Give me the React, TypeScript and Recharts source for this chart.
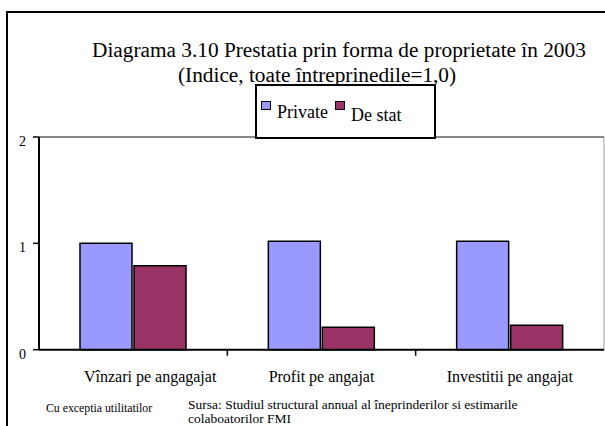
import { BarChart, Bar, XAxis, YAxis, ReferenceArea, ReferenceLine, Legend } from 'recharts'

const FONT = "'Liberation Serif', 'Times New Roman', serif"

const categories = ['Vînzari pe angagajat', 'Profit pe angajat', 'Investitii pe angajat']
const privateValues = [1.0, 1.02, 1.02]
const stateValues = [0.79, 0.21, 0.23]
const yTicks = [0, 1, 2]
const seriesNames = ['Private', 'De stat']
const seriesColors = ['#9999FF', '#993366']

const data = categories.map((name, i) => ({
  name,
  priv: privateValues[i],
  stat: stateValues[i],
}))

// category label + tick mark between categories (Excel style)
function CatTick(props: any) {
  const { x, y, payload, index } = props
  const half = payload.offset ?? 0
  // the first label sits a bit right of its group in the original
  const dx = index === 0 ? 17 : 0
  return (
    <g>
      <text x={x + dx} y={y + 32} textAnchor="middle" fontSize={16} fontFamily={FONT} fill="#000">
        {payload.value}
      </text>
      {index < categories.length - 1 && (
        <line x1={x + half} x2={x + half} y1={y} y2={y + 6} stroke="#000" strokeWidth={1.5} />
      )}
    </g>
  )
}

function ValTick(props: any) {
  const { x, y, payload } = props
  return (
    <text x={x} y={y + 9} textAnchor="end" fontSize={14} fontFamily={FONT} fill="#000">
      {payload.value}
    </text>
  )
}

function LegendBox() {
  return (
    <div
      style={{
        boxSizing: 'border-box',
        width: '100%',
        height: '100%',
        border: '2px solid #000',
        background: '#fff',
        display: 'flex',
        paddingLeft: 4,
        fontFamily: FONT,
        fontSize: 18,
        lineHeight: '18px',
        color: '#000',
      }}
    >
      {seriesNames.map((n, i) => (
        <div key={n} style={{ display: 'flex', alignItems: 'flex-start', marginRight: 7 }}>
          <span
            style={{
              boxSizing: 'border-box',
              width: 10,
              height: 9,
              marginTop: 15,
              marginRight: 6,
              border: '1.5px solid #000',
              background: seriesColors[i],
            }}
          />
          <span style={{ marginTop: i === 0 ? 17 : 20 }}>{n}</span>
        </div>
      ))}
    </div>
  )
}

export default function App() {
  return (
    <div
      style={{
        position: 'fixed',
        left: 0,
        top: 0,
        width: 605,
        height: 426,
        overflow: 'hidden',
        background: '#fff',
      }}
    >
      <div
        style={{
          position: 'absolute',
          left: 6,
          top: 11,
          width: 700,
          height: 500,
          border: '2px solid #000',
        }}
      />
      <svg width={605} height={426} style={{ position: 'absolute', left: 0, top: 0 }}>
        <g fontFamily={FONT} fill="#000">
          <text x={92} y={57} fontSize={21.3}>
            Diagrama 3.10 Prestatia prin forma de proprietate în 2003
          </text>
          <text x={178} y={82} fontSize={21.3}>
            (Indice, toate întreprinedile=1,0)
          </text>
          <text x={46} y={412} fontSize={11.8}>
            Cu exceptia utilitatilor
          </text>
          <text x={188} y={409} fontSize={13.5}>
            Sursa: Studiul structural annual al îneprinderilor si estimarile
          </text>
          <text x={188} y={423} fontSize={13.5}>
            colaboatorilor FMI
          </text>
        </g>
      </svg>
      <div style={{ position: 'absolute', left: 0, top: 0 }}>
        <BarChart
          width={605}
          height={426}
          data={data}
          margin={{ top: 137, right: 1, bottom: 36.3, left: 9 }}
          barSize={52}
          barGap={2}
        >
          <ReferenceArea y1={0} y2={2} fill="none" stroke="#999" strokeWidth={1} />
          <ReferenceLine y={2} stroke="#888" strokeWidth={2} />
          <XAxis
            dataKey="name"
            height={40}
            interval={0}
            tickSize={0}
            tickMargin={0}
            tickLine={false}
            axisLine={{ stroke: '#000', strokeWidth: 2 }}
            tick={<CatTick />}
          />
          <YAxis
            domain={[0, 2]}
            ticks={yTicks}
            width={30}
            tickSize={6}
            tickMargin={7}
            axisLine={{ stroke: '#000', strokeWidth: 2 }}
            tickLine={{ stroke: '#000', strokeWidth: 1.5 }}
            tick={<ValTick />}
          />
          <Legend
            layout="horizontal"
            align="center"
            verticalAlign="middle"
            content={() => <LegendBox />}
            wrapperStyle={{ left: 255, top: 84, width: 181, height: 55 }}
          />
          <Bar
            dataKey="priv"
            name={seriesNames[0]}
            fill={seriesColors[0]}
            stroke="#000"
            strokeWidth={1.5}
            isAnimationActive={false}
          />
          <Bar
            dataKey="stat"
            name={seriesNames[1]}
            fill={seriesColors[1]}
            stroke="#000"
            strokeWidth={1.5}
            isAnimationActive={false}
          />
        </BarChart>
      </div>
    </div>
  )
}
